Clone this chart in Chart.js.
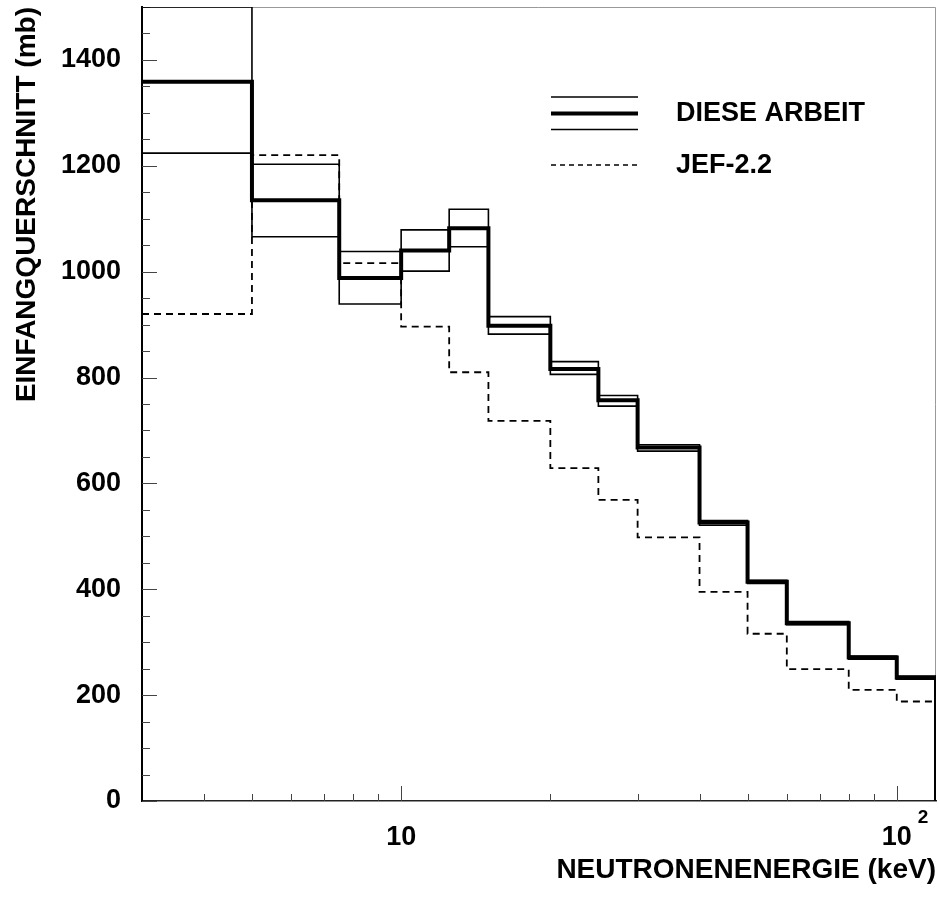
<!DOCTYPE html>
<html>
<head>
<meta charset="utf-8">
<script src="https://cdn.jsdelivr.net/npm/chart.js@4.4.1/dist/chart.umd.min.js"></script>
<style>
  html, body { margin: 0; padding: 0; background: #fff; }
  #wrap { width: 940px; height: 899px; }
</style>
</head>
<body>
<div id="wrap"><canvas id="c" width="940" height="899"></canvas></div>
<script>
// ---- data ----
const binEdges   = [3, 5, 7.5, 10, 12.5, 15, 20, 25, 30, 40, 50, 60, 80, 100, 120];
const dieseArbeit = [1359, 1135, 988, 1040, 1082, 898, 816, 757, 668, 526, 414, 336, 271, 233];
const dieseUpper  = [1500, 1203, 1038, 1079, 1118, 915, 830, 766, 673, 530, 417, 339, 274, 236];
const dieseLower  = [1224, 1066, 939, 1001, 1047, 882, 806, 746, 661, 521, 411, 333, 268, 230];
const jef22       = [920, 1220, 1016, 896, 810, 718, 629, 569, 498, 395, 316, 249, 210, 188];

const seriesLabels = ['DIESE ARBEIT', 'JEF-2.2'];
const xTitle = 'NEUTRONENENERGIE (keV)';
const yTitle = 'EINFANGQUERSCHNITT (mb)';
const xLabelTicks = [10, 100];
const xLabelText  = ['10', '10'];
const xLabelSup   = ['', '2'];
const xMinorTicks = [4, 5, 6, 7, 8, 9, 20, 30, 40, 50, 60, 70, 80, 90];
const yLabelTicks = [0, 200, 400, 600, 800, 1000, 1200, 1400];
const yMinorStep = 50;

// histogram as step points at bin edges (drawn with 'before' stepping)
function histPoints(vals, closeRight) {
  const out = [];
  for (let i = 0; i < vals.length; i++) out.push({ x: binEdges[i], y: vals[i] });
  out.push({ x: binEdges[binEdges.length - 1], y: vals[vals.length - 1] });
  if (closeRight) out.push({ x: binEdges[binEdges.length - 1], y: 0 });
  return out;
}

const FONT = '"Liberation Sans", Arial, Helvetica, sans-serif';

const ticksAndFrame = {
  id: 'ticksAndFrame',
  beforeDatasetsDraw(chart) {
    const { ctx, chartArea: a, scales: { x, y } } = chart;
    ctx.save();
    ctx.strokeStyle = '#999';
    ctx.lineWidth = 1;
    ctx.beginPath();
    ctx.moveTo(a.left, a.top + 0.5); ctx.lineTo(a.right - 0.5, a.top + 0.5);
    ctx.lineTo(a.right - 0.5, a.bottom);
    ctx.stroke();
    ctx.strokeStyle = '#444';
    ctx.lineWidth = 1;
    ctx.beginPath();
    for (let v = 0; v <= y.max; v += yMinorStep) {
      const py = Math.round(y.getPixelForValue(v)) + 0.5;
      const len = (v % 200 === 0) ? 15 : 8;
      ctx.moveTo(a.left, py); ctx.lineTo(a.left + len, py);
    }
    xMinorTicks.forEach(v => {
      const px = Math.round(x.getPixelForValue(v)) + 0.5;
      ctx.moveTo(px, a.bottom); ctx.lineTo(px, a.bottom - 7);
    });
    xLabelTicks.forEach(v => {
      const px = Math.round(x.getPixelForValue(v)) + 0.5;
      ctx.moveTo(px, a.bottom); ctx.lineTo(px, a.bottom - 15);
    });
    ctx.stroke();
    ctx.restore();
  },
  afterDraw(chart) {
    const { ctx, chartArea: a, scales: { x } } = chart;
    ctx.save();
    ctx.fillStyle = '#000';
    ctx.font = 'bold 19px ' + FONT;
    ctx.textAlign = 'left';
    ctx.textBaseline = 'middle';
    xLabelTicks.forEach((v, i) => {
      if (!xLabelSup[i]) return;
      ctx.fillText(xLabelSup[i], x.getPixelForValue(v) + 21, a.bottom + 17);
    });
    // legend
    ctx.strokeStyle = '#000';
    ctx.lineWidth = 1.5;
    ctx.beginPath();
    ctx.moveTo(551, 97); ctx.lineTo(638, 97);
    ctx.moveTo(551, 129.5); ctx.lineTo(638, 129.5);
    ctx.stroke();
    ctx.lineWidth = 4;
    ctx.beginPath();
    ctx.moveTo(551, 113.5); ctx.lineTo(638, 113.5);
    ctx.stroke();
    ctx.lineWidth = 1.5;
    ctx.setLineDash([5, 4]);
    ctx.beginPath();
    ctx.moveTo(551, 165); ctx.lineTo(638, 165);
    ctx.stroke();
    ctx.setLineDash([]);
    ctx.font = 'bold 27px ' + FONT;
    ctx.fillText(seriesLabels[0], 676, 114);
    ctx.fillText(seriesLabels[1], 676, 166);
    ctx.restore();
  }
};

new Chart(document.getElementById('c'), {
  type: 'line',
  data: {
    datasets: [
      { label: seriesLabels[0] + ' (+)', data: histPoints(dieseUpper, false), borderColor: '#000', borderWidth: 1.6, stepped: 'before', pointRadius: 0, fill: false },
      { label: seriesLabels[0] + ' (-)', data: histPoints(dieseLower, false), borderColor: '#000', borderWidth: 1.6, stepped: 'before', pointRadius: 0, fill: false },
      { label: seriesLabels[1], data: histPoints(jef22, false), borderColor: '#000', borderWidth: 1.8, borderDash: [7, 5], stepped: 'before', pointRadius: 0, fill: false },
      { label: seriesLabels[0], data: histPoints(dieseArbeit, true), borderColor: '#000', borderWidth: 4, stepped: 'before', pointRadius: 0, fill: false }
    ]
  },
  options: {
    responsive: false,
    animation: false,
    devicePixelRatio: 1,
    layout: { padding: { top: 7, right: 4, left: 0, bottom: 0 } },
    plugins: { legend: { display: false }, tooltip: { enabled: false } },
    scales: {
      x: {
        type: 'logarithmic',
        min: 3, max: 120,
        afterBuildTicks: s => { s.ticks = xLabelTicks.map(v => ({ value: v })); },
        afterFit: s => { s.height = 98; s.paddingLeft = 0; s.paddingRight = 0; s.paddingTop = 0; s.paddingBottom = 0; },
        grid: { display: false, drawTicks: false },
        border: { display: true, color: '#222', width: 1.5 },
        ticks: {
          autoSkip: false, maxRotation: 0, minRotation: 0, padding: 20, color: '#000',
          font: { family: FONT, weight: 'bold', size: 27 },
          callback: (v, i) => xLabelText[i]
        },
        title: {
          display: true, text: xTitle, align: 'end', color: '#000',
          font: { family: FONT, weight: 'bold', size: 28 },
          padding: { top: 0, bottom: 12 }
        }
      },
      y: {
        min: 0, max: 1500,
        afterBuildTicks: s => { s.ticks = yLabelTicks.map(v => ({ value: v })); },
        afterFit: s => { s.width = 142; s.paddingTop = 0; s.paddingBottom = 0; s.paddingLeft = 0; s.paddingRight = 0; },
        grid: { display: false, drawTicks: false },
        border: { display: true, color: '#000', width: 2 },
        ticks: {
          padding: 21, color: '#000',
          font: { family: FONT, weight: 'bold', size: 27 },
          callback: v => String(v)
        },
        title: {
          display: true, text: yTitle, align: 'end', color: '#000',
          font: { family: FONT, weight: 'bold', size: 28 },
          padding: { top: 10, bottom: 0 }
        }
      }
    }
  },
  plugins: [ticksAndFrame]
});
</script>
</body>
</html>
